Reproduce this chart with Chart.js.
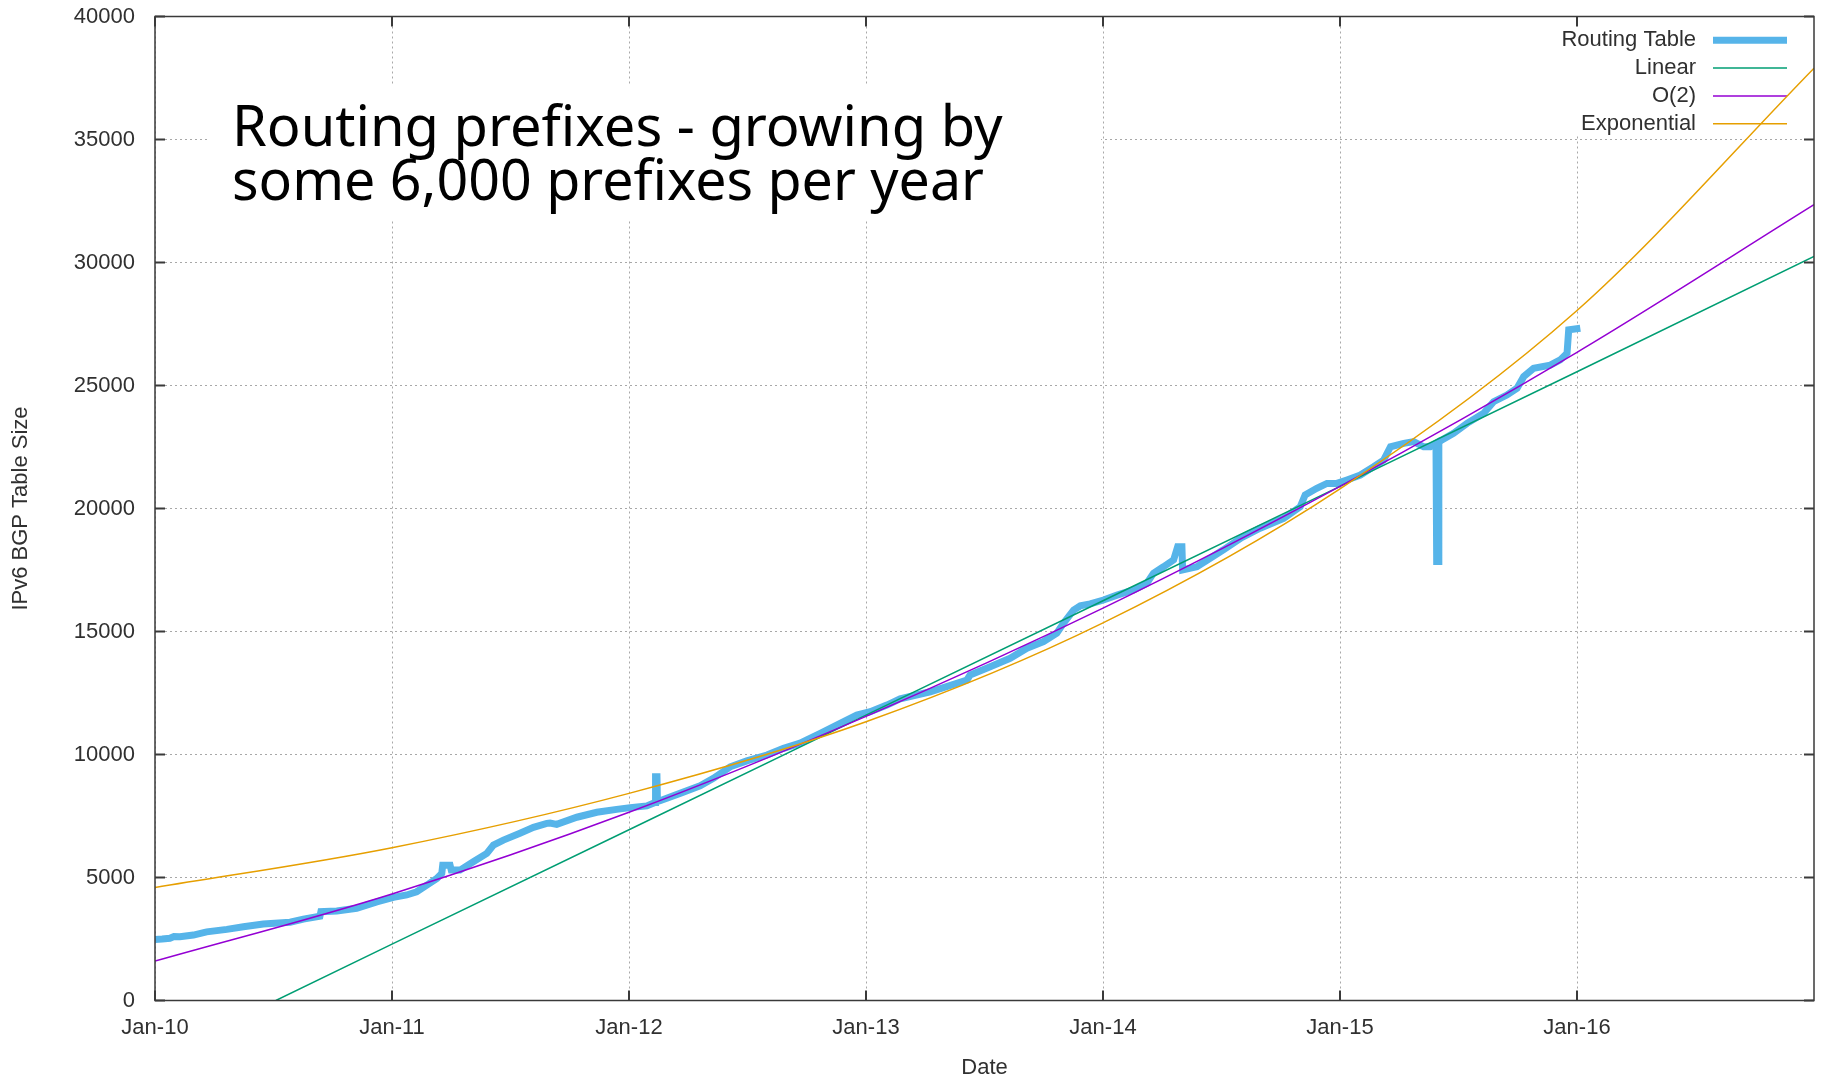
<!DOCTYPE html>
<html>
<head>
<meta charset="utf-8">
<title>IPv6 BGP Table Size</title>
<script src="https://cdn.jsdelivr.net/npm/chart.js@4/dist/chart.umd.min.js"></script>
<style>
  html, body { margin: 0; padding: 0; background: #ffffff; }
  canvas { display: block; }
</style>
</head>
<body>
<canvas id="chart" width="1821" height="1081"></canvas>
<script>
// Axis ticks (x values are decimal years)
const yearTicks = [2010, 2011, 2012, 2013, 2014, 2015, 2016];
const yearTickLabels = ['Jan-10', 'Jan-11', 'Jan-12', 'Jan-13', 'Jan-14', 'Jan-15', 'Jan-16'];

// Observed IPv6 routing table size
const routingYears = [
  2010.000, 2010.030, 2010.063, 2010.080, 2010.105, 2010.162, 2010.218, 2010.303, 2010.373, 2010.457,
  2010.570, 2010.626, 2010.696, 2010.700, 2010.767, 2010.851, 2010.936, 2011.006, 2011.062, 2011.104,
  2011.147, 2011.189, 2011.210, 2011.214, 2011.245, 2011.250, 2011.287, 2011.343, 2011.400, 2011.428,
  2011.470, 2011.540, 2011.597, 2011.653, 2011.667, 2011.695, 2011.780, 2011.864, 2011.948, 2012.005,
  2012.075, 2012.110, 2012.112, 2012.118, 2012.120, 2012.131, 2012.215, 2012.300, 2012.356, 2012.427,
  2012.497, 2012.582, 2012.652, 2012.722, 2012.807, 2012.891, 2012.961, 2013.018, 2013.088, 2013.144,
  2013.271, 2013.383, 2013.426, 2013.439, 2013.524, 2013.608, 2013.679, 2013.749, 2013.805, 2013.833,
  2013.876, 2013.904, 2013.946, 2014.002, 2014.059, 2014.129, 2014.185, 2014.213, 2014.255, 2014.298,
  2014.315, 2014.333, 2014.336, 2014.396, 2014.452, 2014.508, 2014.585, 2014.663, 2014.762, 2014.832,
  2014.853, 2014.902, 2014.945, 2014.987, 2015.029, 2015.086, 2015.142, 2015.184, 2015.213, 2015.269,
  2015.311, 2015.353, 2015.381, 2015.405, 2015.408, 2015.414, 2015.417, 2015.430, 2015.479, 2015.536,
  2015.606, 2015.648, 2015.704, 2015.747, 2015.775, 2015.817, 2015.887, 2015.929, 2015.958, 2015.965,
  2016.014
];
const routingSizes = [
  2480, 2500, 2530, 2600, 2590, 2660, 2790, 2890, 3000, 3110,
  3180, 3310, 3430, 3610, 3640, 3750, 4010, 4190, 4290, 4420,
  4690, 4960, 5170, 5500, 5500, 5300, 5300, 5640, 5980, 6320,
  6520, 6800, 7040, 7200, 7210, 7160, 7450, 7650, 7770, 7840,
  7910, 8050, 9100, 9100, 8090, 8120, 8420, 8730, 9030, 9500,
  9740, 9980, 10250, 10460, 10860, 11270, 11600, 11740, 12010, 12260,
  12550, 12890, 13030, 13230, 13570, 13910, 14320, 14590, 14930, 15330,
  15870, 16040, 16120, 16280, 16480, 16690, 16960, 17370, 17630, 17910,
  18450, 18450, 17500, 17630, 17980, 18320, 18820, 19200, 19600, 20070,
  20550, 20820, 21020, 21020, 21160, 21360, 21700, 21970, 22510, 22650,
  22720, 22510, 22510, 22650, 17850, 17850, 22700, 22790, 23060, 23460,
  23870, 24340, 24610, 24890, 25360, 25700, 25830, 26040, 26310, 27260,
  27330
];

// Fitted trend lines
const linearYears = [2010.51, 2011, 2012, 2013, 2014, 2015, 2016, 2017];
const linearSizes = [0, 2290, 6940, 11600, 16250, 20900, 25560, 30250];

const quadYears = [2010, 2011, 2012, 2013, 2014, 2015, 2016, 2017];
const quadSizes = [1600, 4330, 7650, 11550, 15950, 20900, 26350, 32350];

const expYears = [2010, 2011, 2012, 2013, 2014, 2015, 2016, 2017];
const expSizes = [4590, 6210, 8420, 11330, 15350, 20800, 28050, 37900];

const noteLines = ['Routing prefixes - growing by', 'some 6,000 prefixes per year'];

const toPoints = (xs, ys) => xs.map((x, i) => ({ x: x, y: ys[i] }));

const TEXT = '#303030';
const FRAME = '#3a3a3a';
const FONT = "'Liberation Sans', Arial, sans-serif";

Chart.defaults.font.family = FONT;
Chart.defaults.font.size = 22;
Chart.defaults.color = TEXT;

// Note box, key box and key entries sit above the grid but under the curves
const backdropPlugin = {
  id: 'backdrop',
  beforeDatasetsDraw(chart) {
    const ctx = chart.ctx;
    ctx.save();
    ctx.fillStyle = '#ffffff';
    ctx.fillRect(210, 85, 891, 135);
    ctx.fillRect(1540, 18, 272, 116);

    // handwritten-style note
    ctx.fillStyle = '#000000';
    ctx.textAlign = 'left';
    ctx.textBaseline = 'alphabetic';
    ctx.font = "56px 'Noto Sans', sans-serif";
    ctx.fillText(noteLines[0], 232, 146, 774);
    ctx.fillText(noteLines[1], 232, 200, 752);

    // key: right-aligned labels followed by a line sample
    ctx.font = '22px ' + FONT;
    ctx.textAlign = 'right';
    ctx.textBaseline = 'middle';
    chart.data.datasets.forEach((ds, i) => {
      const y = 40.3 + i * 27.8;
      ctx.fillStyle = TEXT;
      ctx.fillText(ds.label, 1696, y);
      ctx.strokeStyle = ds.borderColor;
      ctx.lineWidth = ds.borderWidth;
      ctx.beginPath();
      ctx.moveTo(1713, y);
      ctx.lineTo(1787, y);
      ctx.stroke();
    });
    ctx.restore();
  }
};

// Plot border with inward tick marks on all four sides
const framePlugin = {
  id: 'frame',
  afterDraw(chart) {
    const { ctx, chartArea: a } = chart;
    const xs = chart.scales.x;
    const ys = chart.scales.y;
    const len = 10;
    ctx.save();
    ctx.strokeStyle = FRAME;
    ctx.lineWidth = 1.5;
    ctx.strokeRect(a.left, a.top, a.right - a.left, a.bottom - a.top);
    ctx.lineWidth = 2;
    ctx.beginPath();
    xs.ticks.forEach(t => {
      const px = xs.getPixelForValue(t.value);
      ctx.moveTo(px, a.bottom); ctx.lineTo(px, a.bottom - len);
      ctx.moveTo(px, a.top); ctx.lineTo(px, a.top + len);
    });
    ys.ticks.forEach(t => {
      const py = ys.getPixelForValue(t.value);
      ctx.moveTo(a.left, py); ctx.lineTo(a.left + len, py);
      ctx.moveTo(a.right, py); ctx.lineTo(a.right - len, py);
    });
    ctx.stroke();
    ctx.restore();
  }
};

new Chart(document.getElementById('chart').getContext('2d'), {
  type: 'line',
  data: {
    datasets: [
      {
        label: 'Routing Table',
        data: toPoints(routingYears, routingSizes),
        borderColor: '#56b4e9',
        borderWidth: 7,
        pointRadius: 0,
        tension: 0,
        order: 10
      },
      {
        label: 'Linear',
        data: toPoints(linearYears, linearSizes),
        borderColor: '#009e73',
        borderWidth: 1.5,
        pointRadius: 0,
        tension: 0,
        order: 2
      },
      {
        label: 'O(2)',
        data: toPoints(quadYears, quadSizes),
        borderColor: '#9400d3',
        borderWidth: 1.5,
        pointRadius: 0,
        cubicInterpolationMode: 'monotone',
        order: 1
      },
      {
        label: 'Exponential',
        data: toPoints(expYears, expSizes),
        borderColor: '#e69f00',
        borderWidth: 1.5,
        pointRadius: 0,
        cubicInterpolationMode: 'monotone',
        order: 0
      }
    ]
  },
  options: {
    responsive: false,
    animation: false,
    devicePixelRatio: 1,
    layout: { padding: { top: 16.5, right: 7, bottom: 0, left: 0 } },
    plugins: {
      legend: { display: false },
      tooltip: { enabled: false }
    },
    scales: {
      x: {
        type: 'linear',
        min: 2010,
        max: 2017,
        afterBuildTicks: s => { s.ticks = yearTicks.map(v => ({ value: v })); },
        afterFit: s => { s.height = 80.5; s.paddingLeft = 0; s.paddingRight = 0; },
        ticks: {
          callback: v => { const i = yearTicks.indexOf(v); return i >= 0 ? yearTickLabels[i] : ''; },
          padding: 14,
          maxRotation: 0,
          autoSkip: false,
          color: TEXT
        },
        grid: { color: '#a8a8a8', lineWidth: 1, drawTicks: false },
        border: { display: false, dash: [2, 3] },
        title: { display: true, text: 'Date', color: TEXT, padding: { top: 0, bottom: 0 } }
      },
      y: {
        min: 0,
        max: 40000,
        afterFit: s => { s.width = 155; s.paddingTop = 0; s.paddingBottom = 0; },
        ticks: {
          stepSize: 5000,
          callback: v => String(v),
          padding: 20,
          color: TEXT
        },
        grid: { color: '#a8a8a8', lineWidth: 1, drawTicks: false },
        border: { display: false, dash: [2, 3] },
        title: { display: true, text: 'IPv6 BGP Table Size', color: TEXT, padding: { top: 8, bottom: 0 } }
      }
    }
  },
  plugins: [backdropPlugin, framePlugin]
});
</script>
</body>
</html>
